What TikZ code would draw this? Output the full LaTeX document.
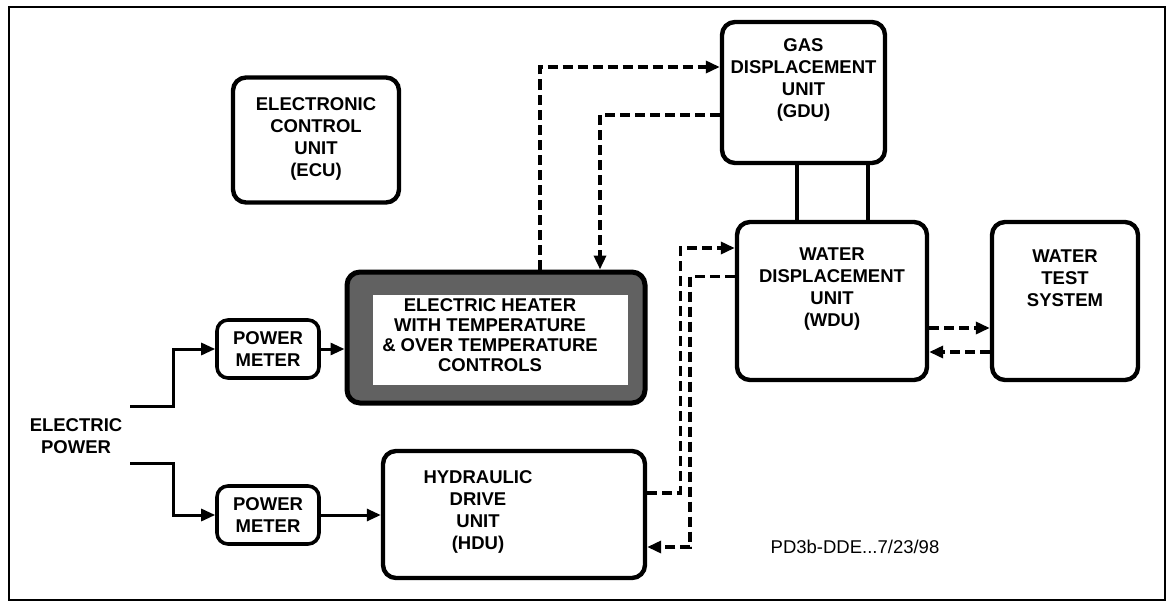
\documentclass[tikz,border=0pt]{standalone}
\usepackage{fontspec}
\setmainfont{Liberation Sans}
\usetikzlibrary{arrows.meta,positioning}

\begin{document}
\begin{tikzpicture}[x=1pt,y=-1pt,>={Triangle[length=14pt,width=12pt]},
    unitbox/.style={draw=black,line width=4.4pt,rounded corners=13pt,inner sep=0pt},
    boxtext/.style={align=center,font=\bfseries\fontsize{18.5}{22}\selectfont,inner sep=0pt},
    wire/.style={->,line width=3pt},
    flowd/.style={->,line width=3.4pt,dash pattern=on 10pt off 5pt},
    link/.style={line width=4pt}]
    \useasboundingbox (0,0) rectangle (1173,602);
    \draw[line width=2.4pt] (9,7) rectangle (1165,600);

    % units
    \node[unitbox,minimum width=166pt,minimum height=125pt] (ecu) at (316,140) {};
    \node[boxtext] (ecutext) at (316,139) {ELECTRONIC\\CONTROL\\UNIT\\(ECU)};
    \node[unitbox,minimum width=163pt,minimum height=141pt] (gdu) at (803.5,92.5) {};
    \node[boxtext] (gdutext) at (gdu.center) [yshift=13pt] {GAS\\DISPLACEMENT\\UNIT\\(GDU)};
    \node[unitbox,minimum width=190pt,minimum height=158pt] (wdu) at (832,301) {};
    \node[boxtext] (wdutext) at (wdu.center) [yshift=12pt] {WATER\\DISPLACEMENT\\UNIT\\(WDU)};
    \node[unitbox,minimum width=146pt,minimum height=158pt] (wts) at (1065,301) {};
    \node[boxtext] (wtstext) at (wts.center) [yshift=23pt] {WATER\\TEST\\SYSTEM};
    \node[unitbox,fill=black!62,line width=5pt,minimum width=298pt,minimum height=131pt] (heater) at (496,337.5) {};
    \node[fill=white,minimum width=255pt,minimum height=90pt,inner sep=0pt] (heaterpanel) at (500.5,340) {};
    \node[boxtext,font=\bfseries\fontsize{18.5}{20}\selectfont] (heatertext) at (490,335) {ELECTRIC HEATER\\WITH TEMPERATURE\\\& OVER TEMPERATURE\\CONTROLS};
    \node[unitbox,minimum width=262pt,minimum height=127pt] (hdu) at (514,514.5) {};
    \node[boxtext] (hdutext) at (478,512) {HYDRAULIC\\DRIVE\\UNIT\\(HDU)};
    \node[unitbox,rounded corners=11pt,line width=3.6pt,minimum width=102pt,minimum height=58pt] (pm1) at (268,349) {};
    \node[boxtext] (pm1text) at (pm1.center) {POWER\\METER};
    \node[unitbox,rounded corners=11pt,line width=3.6pt,minimum width=102pt,minimum height=58pt] (pm2) at (268,515) {};
    \node[boxtext] (pm2text) at (pm2.center) {POWER\\METER};
    \node[boxtext] (power) at (76,436) {ELECTRIC\\POWER};
    \node[font=\fontsize{18.5}{20}\selectfont,inner sep=0pt] (stamp) at (855,547) {PD3b-DDE...7/23/98};

    % electric power feed
    \coordinate (feed1) at (130,406);
    \coordinate (feed2) at (130,463);
    \draw[wire] (feed1) -- ++(43,0) |- (pm1.west);
    \draw[wire] (feed2) -- ++(43,0) |- (pm2.west);
    \draw[wire] (pm1.east) -- (heater.west |- pm1.east);
    \draw[wire] (pm2.east) -- (hdu.west |- pm2.east);

    % gas / water flows
    \draw[flowd] ([xshift=44pt]heater.north) |- ([yshift=25.5pt]gdu.west);
    \draw[flowd] ([yshift=-22.5pt]gdu.west) -| ([xshift=104pt]heater.north);
    \draw[flowd] ([yshift=21.5pt]hdu.east) -- ++(33,0) |- ([yshift=53pt]wdu.west);
    \draw[flowd] ([yshift=24.5pt]wdu.west) -- ++(-45,0) |- ([yshift=-32.5pt]hdu.east);
    \draw[flowd] ([yshift=-27pt]wdu.east) -- ([yshift=-27pt]wts.west);
    \draw[flowd] ([yshift=-51pt]wts.west) -- ([yshift=-51pt]wdu.east);
    \draw[link] ([xshift=-7pt]gdu.south) -- ([xshift=-7pt]gdu.south |- wdu.north);
    \draw[link] ([xshift=64pt]gdu.south) -- ([xshift=64pt]gdu.south |- wdu.north);
\end{tikzpicture}
\end{document}
